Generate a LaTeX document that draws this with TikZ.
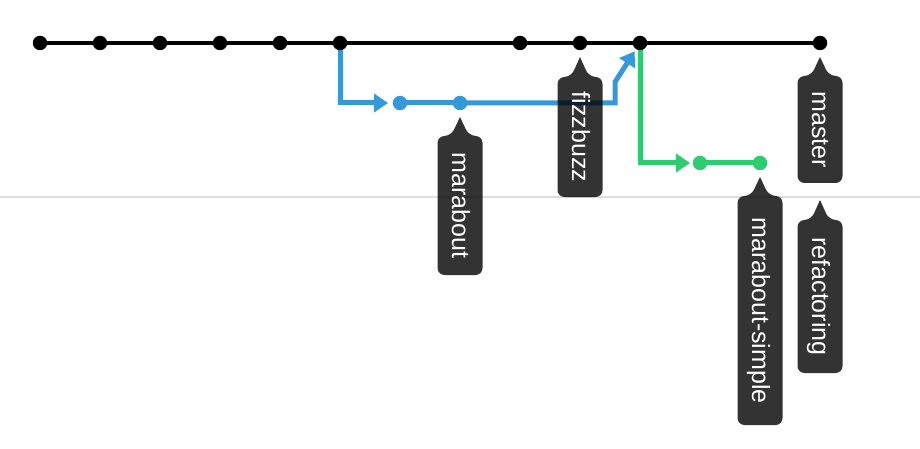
\documentclass[tikz,border=0pt]{standalone}
\usepackage{fontspec}
\setmainfont{Liberation Sans}
\usetikzlibrary{arrows.meta,backgrounds}
\definecolor{brblue}{HTML}{3498DB}
\definecolor{brgreen}{HTML}{2ECC71}
\definecolor{rulegray}{HTML}{DDDDDD}

% Branch label: name, centre x, tip y, box top y, box bottom y, text
\newcommand\reftag[6]{%
  \fill[tagfill] (#2,#3) [rounded corners=7pt] -- (#2+9,#4) -- (#2+22.5,#4)
    -- (#2+22.5,#5) -- (#2-22.5,#5) -- (#2-22.5,#4) -- (#2-9,#4) [sharp corners] -- cycle;
  \node[tagtext] (#1) at (#2,{(#4+#5)/2}) {#6};
}

\begin{document}
\begin{tikzpicture}[x=1pt,y=-1pt,
  commit/.style={circle,fill,inner sep=0pt,minimum size=14.5pt},
  trunk/.style={line width=4pt,black},
  branchline/.style={line width=5pt},
  tipstyle/.style={-{Triangle[length=14pt,width=18pt]}},
  tagfill/.style={fill=black,fill opacity=0.8},
  tagtext/.style={rotate=-90,text=white,inner sep=0pt,text height=18pt,text depth=2pt,
    font=\fontsize{25}{30}\selectfont}]
\useasboundingbox (0,0) rectangle (920,449);

% commits on master
\foreach \n/\x in {1/40,2/100,3/160,4/220,5/280,6/340,7/520,8/580,9/640,10/820}
  \node[commit] (m\n) at (\x,43) {};
% commits on marabout
\node[commit,brblue] (b1) at (400,103) {};
\node[commit,brblue] (b2) at (460,103) {};
% commits on marabout-simple
\node[commit,brgreen] (g1) at (700,163) {};
\node[commit,brgreen] (g2) at (760,163) {};

% bend points of the merge back into master
\coordinate (mergelow) at (615,103);
\coordinate (mergeup) at (615,82);
\coordinate (ruleL) at (0,197);
\coordinate (ruleR) at (920,197);

\begin{scope}[on background layer]
  \draw[rulegray,line width=2pt] (ruleL) -- (ruleR);
  \draw[trunk] (m1.center) -- (m10.center);
  \draw[branchline,brblue,tipstyle,shorten >=4.5pt] (m6.center) |- (b1);
  \draw[branchline,brblue] (b1.center) -- (b2.center);
  \draw[branchline,brblue,tipstyle,shorten >=2.5pt] (b2.center) -- (mergelow) -- (mergeup) -- (m9);
  \draw[branchline,brgreen,tipstyle,shorten >=2.5pt] (m9.center) |- (g1);
  \draw[branchline,brgreen] (g1.center) -- (g2.center);
\end{scope}

% branch labels
\reftag{tfizz}{580}{57}{77}{197}{fizzbuzz}
\reftag{tmara}{460}{117}{136}{275}{marabout}
\reftag{tmaster}{820}{57}{76}{183}{master}
\reftag{tsimple}{760}{177}{196}{425}{marabout-simple}
\reftag{trefac}{820}{200}{220}{373}{refactoring}
\end{tikzpicture}
\end{document}
